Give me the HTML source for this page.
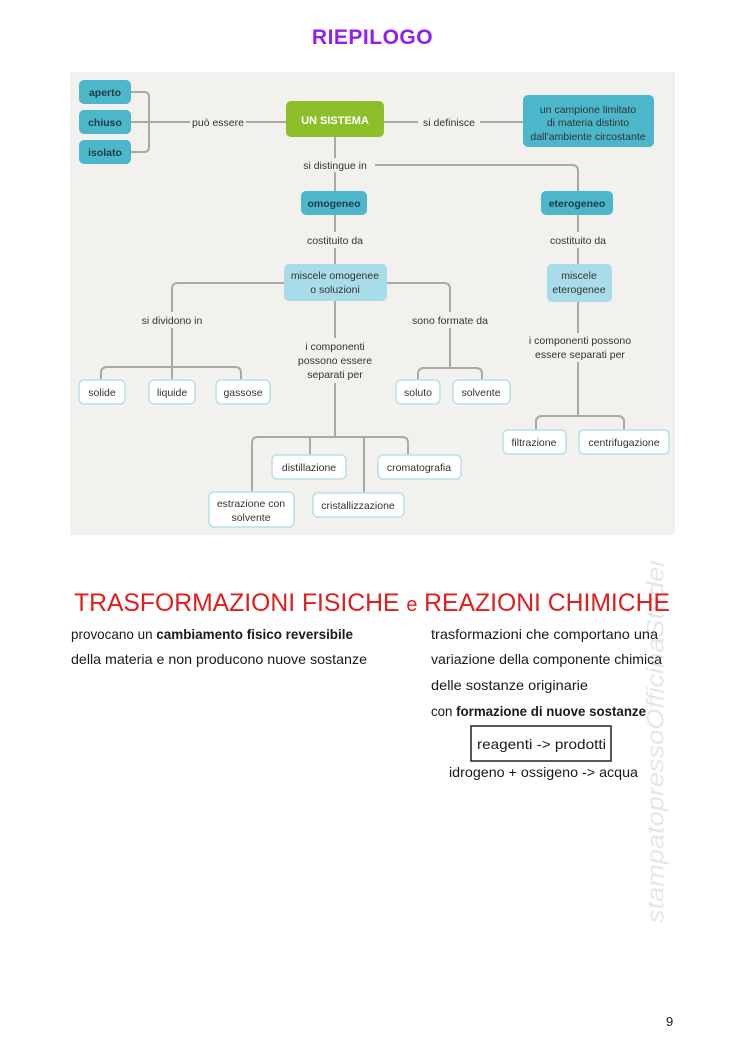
<!DOCTYPE html>
<html><head><meta charset="utf-8"><style>
html,body{margin:0;padding:0;background:#fff;}
body{width:745px;height:1053px;position:relative;overflow:hidden;font-family:"Liberation Sans",sans-serif;}
.t{position:absolute;white-space:nowrap;}
</style></head><body>
<div class="t" style="left:0;width:745px;text-align:center;top:26px;font-size:21px;font-weight:bold;color:#9020f0;letter-spacing:0.5px;">RIEPILOGO</div>
<svg style="position:absolute;left:0;top:0" width="745" height="560" font-family="Liberation Sans, sans-serif">
<rect x="70" y="72" width="605" height="463" fill="#f2f1ed"/>
<g stroke="#a9aaa6" stroke-width="2" fill="none">
<path d="M131 92 H144 Q149 92 149 97 V147 Q149 152 144 152 H131"/>
<path d="M131 122 H190 M246 122 H286"/>
<path d="M384 122 H418 M480 122 H523"/>
<path d="M335 137 V158 M335 172 V191"/>
<path d="M375 165 H572 Q578 165 578 171 V191"/>
<path d="M335 215 V232 M335 248 V264"/>
<path d="M578 215 V232 M578 248 V264"/>
<path d="M284 283 H178 Q172 283 172 289 V312 M172 328 V367"/>
<path d="M101 380 V373 Q101 367 107 367 H235 Q241 367 241 373 V380 M172 367 V380"/>
<path d="M387 283 H444 Q450 283 450 289 V312 M450 328 V368"/>
<path d="M418 380 V374 Q418 368 424 368 H476 Q482 368 482 374 V380"/>
<path d="M335 301 V338 M335 383 V437"/>
<path d="M252 492 V443 Q252 437 258 437 H402 Q408 437 408 443 V455 M310 437 V455 M364 437 V493"/>
<path d="M578 302 V333 M578 362 V416"/>
<path d="M536 430 V422 Q536 416 542 416 H618 Q624 416 624 422 V430"/>
</g>
<g fill="#4cb7cb">
<rect x="79" y="80" width="52" height="24" rx="5"/>
<rect x="79" y="110" width="52" height="24" rx="5"/>
<rect x="79" y="140" width="52" height="24" rx="5"/>
<rect x="523" y="95" width="131" height="52" rx="5"/>
<rect x="301" y="191" width="66" height="24" rx="5"/>
<rect x="541" y="191" width="72" height="24" rx="5"/>
</g>
<rect x="286" y="101" width="98" height="36" rx="5" fill="#8dbf2a"/>
<rect x="284" y="264" width="103" height="37" rx="5" fill="#a8dce8"/>
<rect x="547" y="264" width="65" height="38" rx="5" fill="#a8dce8"/>
<g fill="#fff" stroke="#b7e0e8" stroke-width="1.5">
<rect x="79" y="380" width="46" height="24" rx="5"/>
<rect x="149" y="380" width="46" height="24" rx="5"/>
<rect x="216" y="380" width="54" height="24" rx="5"/>
<rect x="396" y="380" width="44" height="24" rx="5"/>
<rect x="453" y="380" width="57" height="24" rx="5"/>
<rect x="503" y="430" width="63" height="24" rx="5"/>
<rect x="579" y="430" width="90" height="24" rx="5"/>
<rect x="272" y="455" width="74" height="24" rx="5"/>
<rect x="378" y="455" width="83" height="24" rx="5"/>
<rect x="209" y="492" width="85" height="35" rx="5"/>
<rect x="313" y="493" width="91" height="24" rx="5"/>
</g>
<g font-size="10.5" fill="#1e3a42" text-anchor="middle" font-weight="bold">
<text x="105" y="96">aperto</text><text x="105" y="126">chiuso</text><text x="105" y="156">isolato</text>
<text x="334" y="207">omogeneo</text><text x="577" y="207">eterogeneo</text>
</g>
<text x="335" y="124" font-size="11" font-weight="bold" fill="#fff" text-anchor="middle">UN SISTEMA</text>
<g font-size="10.5" fill="#333" text-anchor="middle">
<text x="218" y="126">può essere</text><text x="449" y="126">si definisce</text>
<text x="588" y="113">un campione limitato</text><text x="588" y="126">di materia distinto</text><text x="588" y="140">dall'ambiente circostante</text>
<text x="335" y="169">si distingue in</text>
<text x="335" y="244">costituito da</text><text x="578" y="244">costituito da</text>
<text x="335" y="279">miscele omogenee</text><text x="335" y="293">o soluzioni</text>
<text x="579" y="279">miscele</text><text x="579" y="293">eterogenee</text>
<text x="172" y="324">si dividono in</text><text x="450" y="324">sono formate da</text>
<text x="335" y="350">i componenti</text><text x="335" y="364">possono essere</text><text x="335" y="378">separati per</text>
<text x="580" y="344">i componenti possono</text><text x="580" y="358">essere separati per</text>
<text x="102" y="396">solide</text><text x="172" y="396">liquide</text><text x="243" y="396">gassose</text>
<text x="418" y="396">soluto</text><text x="481" y="396">solvente</text>
<text x="534" y="446">filtrazione</text><text x="624" y="446">centrifugazione</text>
<text x="309" y="471">distillazione</text><text x="419" y="471">cromatografia</text>
<text x="251" y="507">estrazione con</text><text x="251" y="521">solvente</text>
<text x="358" y="509">cristallizzazione</text>
</g>
</svg>
<svg style="position:absolute;left:0;top:560px" width="745" height="480" font-family="Liberation Sans, sans-serif">
<text x="657" y="-22" transform="rotate(-90 657 -22) translate(-385 0)" font-size="24" font-style="italic" fill="#e6e6e6" textLength="385" lengthAdjust="spacingAndGlyphs" dominant-baseline="middle">stampatopressoOfficinaStudenti</text>
<text x="74" y="51" font-size="25" fill="#e21d1d" textLength="596" lengthAdjust="spacingAndGlyphs">TRASFORMAZIONI FISICHE <tspan font-size="20">e</tspan> REAZIONI CHIMICHE</text>
<g font-size="14" fill="#1a1a1a">
<text x="71" y="79" textLength="282" lengthAdjust="spacingAndGlyphs">provocano un <tspan font-weight="bold">cambiamento fisico reversibile</tspan></text>
<text x="71" y="104" textLength="296" lengthAdjust="spacingAndGlyphs">della materia e non producono nuove sostanze</text>
<text x="431" y="79" textLength="227" lengthAdjust="spacingAndGlyphs">trasformazioni che comportano una</text>
<text x="431" y="104" textLength="231" lengthAdjust="spacingAndGlyphs">variazione della componente chimica</text>
<text x="431" y="130" textLength="157" lengthAdjust="spacingAndGlyphs">delle sostanze originarie</text>
<text x="431" y="156" textLength="215" lengthAdjust="spacingAndGlyphs">con <tspan font-weight="bold">formazione di nuove sostanze</tspan></text>
<rect x="471" y="166" width="140" height="35" fill="none" stroke="#222" stroke-width="1.5"/>
<text x="477" y="189" textLength="129" lengthAdjust="spacingAndGlyphs">reagenti -&gt; prodotti</text>
<text x="449" y="217" textLength="189" lengthAdjust="spacingAndGlyphs">idrogeno + ossigeno -&gt; acqua</text>
<text x="666" y="466" font-size="13">9</text>
</g>
</svg>
</body></html>
